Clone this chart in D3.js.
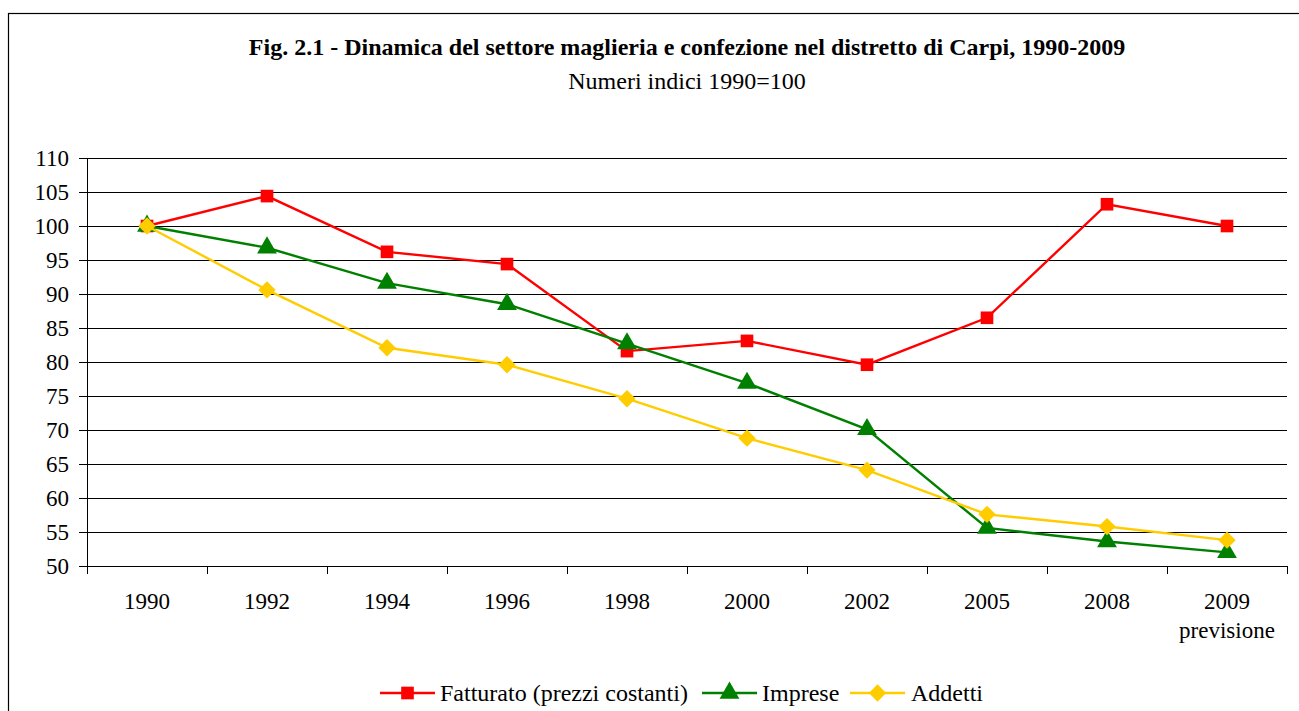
<!DOCTYPE html>
<html>
<head>
<meta charset="utf-8">
<script src="https://cdn.jsdelivr.net/npm/d3@7"></script>
<style>
  body { margin: 0; background: #fff; }
  text { font-family: "Liberation Serif", "Times New Roman", serif; fill: #000; }
</style>
</head>
<body>
<div class="chart"></div>
<script>
var years = ["1990", "1992", "1994", "1996", "1998", "2000", "2002", "2005", "2008", "2009"];
var fatturato = [100, 104.4, 96.2, 94.4, 81.6, 83.1, 79.6, 86.5, 103.2, 100];
var imprese = [100, 96.8, 91.6, 88.5, 82.7, 76.9, 70.1, 55.6, 53.6, 52.0];
var addetti = [100, 90.6, 82.1, 79.6, 74.6, 68.8, 64.1, 57.6, 55.8, 53.8];
var yTicks = [50, 55, 60, 65, 70, 75, 80, 85, 90, 95, 100, 105, 110];

var svgWidth = 1299;
var svgHeight = 711;
var margin = { top: 158, right: 12, bottom: 145, left: 87 };
var width = svgWidth - margin.left - margin.right;
var height = svgHeight - margin.top - margin.bottom;

var svg = d3.select(".chart")
  .append("svg")
  .attr("width", svgWidth)
  .attr("height", svgHeight);

// outer frame
svg.append("rect")
  .attr("x", 8.5).attr("y", 13.5)
  .attr("width", 1300).attr("height", 720)
  .attr("fill", "none")
  .attr("stroke", "#000")
  .attr("stroke-width", 1.2);

svg.append("text")
  .attr("x", 687).attr("y", 55)
  .attr("text-anchor", "middle")
  .attr("font-size", "24px")
  .attr("font-weight", "bold")
  .text("Fig. 2.1 - Dinamica del settore maglieria e confezione nel distretto di Carpi, 1990-2009");

svg.append("text")
  .attr("x", 687).attr("y", 89)
  .attr("text-anchor", "middle")
  .attr("font-size", "24px")
  .text("Numeri indici 1990=100");

var chartGroup = svg.append("g")
  .attr("transform", `translate(${margin.left}, ${margin.top})`);

var x = d3.scaleBand().domain(years).range([0, width]);
var y = d3.scaleLinear().domain([50, 110]).range([height, 0]);

// gridlines
chartGroup.append("g")
  .selectAll("line")
  .data(yTicks.slice(1))
  .enter()
  .append("line")
  .attr("x1", 0).attr("x2", width)
  .attr("y1", d => Math.round(y(d)) + 0.5)
  .attr("y2", d => Math.round(y(d)) + 0.5)
  .attr("stroke", "#000")
  .attr("stroke-width", 1);

var leftAxis = d3.axisLeft(y).tickValues(yTicks).tickSize(8).tickPadding(10);
var yAxis = chartGroup.append("g").call(leftAxis);
yAxis.select(".domain").attr("stroke", "#000");
yAxis.selectAll("text")
  .attr("font-size", "23px")
  .attr("fill", "#000");

// x axis with ticks on band boundaries
var xAxisG = chartGroup.append("g")
  .attr("transform", `translate(0, ${height})`);
xAxisG.append("line")
  .attr("x1", 0).attr("x2", width)
  .attr("y1", 0.5).attr("y2", 0.5)
  .attr("stroke", "#000");
xAxisG.selectAll("line.tick")
  .data(years.concat(["end"]))
  .enter()
  .append("line")
  .attr("class", "tick")
  .attr("x1", (d, i) => Math.round(i * x.step()) + 0.5)
  .attr("x2", (d, i) => Math.round(i * x.step()) + 0.5)
  .attr("y1", 0).attr("y2", 8)
  .attr("stroke", "#000");
xAxisG.selectAll("text.lab")
  .data(years)
  .enter()
  .append("text")
  .attr("class", "lab")
  .attr("x", d => x(d) + x.bandwidth() / 2)
  .attr("y", 43)
  .attr("text-anchor", "middle")
  .attr("font-size", "23px")
  .text(d => d);
xAxisG.append("text")
  .attr("x", x("2009") + x.bandwidth() / 2)
  .attr("y", 72)
  .attr("text-anchor", "middle")
  .attr("font-size", "23px")
  .text("previsione");

var diamond = {
  draw: function(ctx, size) {
    var r = Math.sqrt(size / 2);
    ctx.moveTo(0, -r); ctx.lineTo(r, 0); ctx.lineTo(0, r); ctx.lineTo(-r, 0); ctx.closePath();
  }
};

var series = [
  { name: "Fatturato (prezzi costanti)", values: fatturato, color: "#ff0000", symbol: d3.symbolSquare, size: 160 },
  { name: "Imprese", values: imprese, color: "#008000", symbol: d3.symbolTriangle, size: 170 },
  { name: "Addetti", values: addetti, color: "#ffcc00", symbol: diamond, size: 150 }
];

var line = d3.line()
  .x((d, i) => x(years[i]) + x.bandwidth() / 2)
  .y(d => y(d));

series.forEach(function(s) {
  var g = chartGroup.append("g");
  g.append("path")
    .attr("d", line(s.values))
    .attr("fill", "none")
    .attr("stroke", s.color)
    .attr("stroke-width", 2.4);
  g.selectAll("path.m")
    .data(s.values)
    .enter()
    .append("path")
    .attr("class", "m")
    .attr("transform", (d, i) => `translate(${x(years[i]) + x.bandwidth() / 2}, ${y(d)})`)
    .attr("d", d3.symbol().type(s.symbol).size(s.size))
    .attr("fill", s.color);
});

// legend
var legendItems = [
  { x0: 380, tx: 440 },
  { x0: 702, tx: 762 },
  { x0: 850, tx: 911 }
];
var legendGroup = svg.append("g");
series.forEach(function(s, i) {
  var li = legendItems[i];
  var ly = 693;
  legendGroup.append("line")
    .attr("x1", li.x0).attr("x2", li.x0 + 55)
    .attr("y1", ly).attr("y2", ly)
    .attr("stroke", s.color)
    .attr("stroke-width", 2.4);
  legendGroup.append("path")
    .attr("transform", `translate(${li.x0 + 27.5}, ${ly})`)
    .attr("d", d3.symbol().type(s.symbol).size(s.size))
    .attr("fill", s.color);
  legendGroup.append("text")
    .attr("x", li.tx)
    .attr("y", ly + 8)
    .attr("font-size", "24px")
    .text(s.name);
});
</script>
</body>
</html>
